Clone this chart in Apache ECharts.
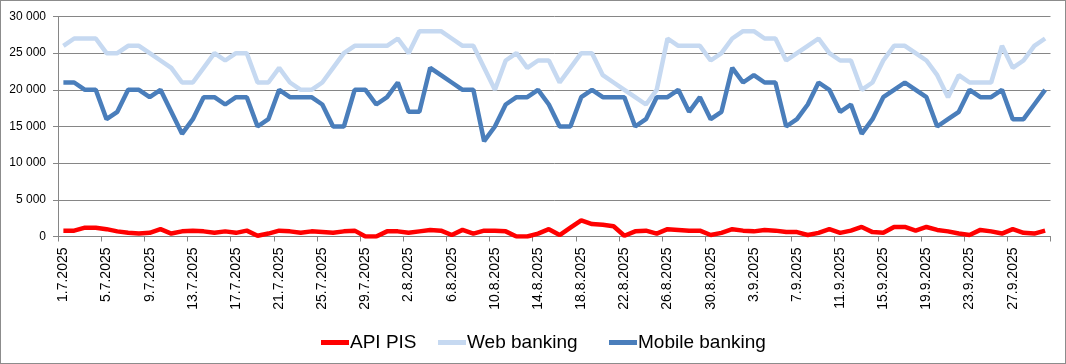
<!DOCTYPE html>
<html>
<head>
<meta charset="utf-8">
<script src="https://cdn.jsdelivr.net/npm/echarts@6/dist/echarts.min.js"></script>
<style>
html,body{margin:0;padding:0;background:#fff;}
#chart{width:1066px;height:364px;box-sizing:border-box;border:1px solid #8c8c8c;}
</style>
</head>
<body>
<div id="chart"></div>
<script>
const categories = [
"1.7.2025","2.7.2025","3.7.2025","4.7.2025","5.7.2025","6.7.2025","7.7.2025","8.7.2025","9.7.2025","10.7.2025",
"11.7.2025","12.7.2025","13.7.2025","14.7.2025","15.7.2025","16.7.2025","17.7.2025","18.7.2025","19.7.2025","20.7.2025",
"21.7.2025","22.7.2025","23.7.2025","24.7.2025","25.7.2025","26.7.2025","27.7.2025","28.7.2025","29.7.2025","30.7.2025",
"31.7.2025","1.8.2025","2.8.2025","3.8.2025","4.8.2025","5.8.2025","6.8.2025","7.8.2025","8.8.2025","9.8.2025",
"10.8.2025","11.8.2025","12.8.2025","13.8.2025","14.8.2025","15.8.2025","16.8.2025","17.8.2025","18.8.2025","19.8.2025",
"20.8.2025","21.8.2025","22.8.2025","23.8.2025","24.8.2025","25.8.2025","26.8.2025","27.8.2025","28.8.2025","29.8.2025",
"30.8.2025","31.8.2025","1.9.2025","2.9.2025","3.9.2025","4.9.2025","5.9.2025","6.9.2025","7.9.2025","8.9.2025",
"9.9.2025","10.9.2025","11.9.2025","12.9.2025","13.9.2025","14.9.2025","15.9.2025","16.9.2025","17.9.2025","18.9.2025",
"19.9.2025","20.9.2025","21.9.2025","22.9.2025","23.9.2025","24.9.2025","25.9.2025","26.9.2025","27.9.2025","28.9.2025",
"29.9.2025","30.9.2025"
];

const apiPis = [
800,800,1200,1200,1000,700,500,400,500,1000,
400,700,800,700,500,700,500,800,100,400,
800,700,500,700,600,500,700,800,0,0,
700,700,500,700,900,800,200,900,400,800,
800,700,0,0,400,1000,200,1200,2200,1700,
1600,1400,100,700,800,400,1000,900,800,800,
200,500,1000,800,700,900,800,600,600,200,
500,1000,500,800,1300,600,500,1300,1300,800,
1300,900,700,400,200,900,700,400,1000,500,
400,800
];

const webBanking = [
26000,27000,27000,27000,25000,25000,26000,26000,25000,24000,
23000,21000,21000,23000,25000,24000,25000,25000,21000,21000,
23000,21000,20000,20000,21000,23000,25000,26000,26000,26000,
26000,27000,25000,28000,28000,28000,27000,26000,26000,23000,
20000,24000,25000,23000,24000,24000,21000,23000,25000,25000,
22000,21000,20000,19000,18000,20000,27000,26000,26000,26000,
24000,25000,27000,28000,28000,27000,27000,24000,25000,26000,
27000,25000,24000,24000,20000,21000,24000,26000,26000,25000,
24000,22000,19000,22000,21000,21000,21000,26000,23000,24000,
26000,27000
];

const mobileBanking = [
21000,21000,20000,20000,16000,17000,20000,20000,19000,20000,
17000,14000,16000,19000,19000,18000,19000,19000,15000,16000,
20000,19000,19000,19000,18000,15000,15000,20000,20000,18000,
19000,21000,17000,17000,23000,22000,21000,20000,20000,13000,
15000,18000,19000,19000,20000,18000,15000,15000,19000,20000,
19000,19000,19000,15000,16000,19000,19000,20000,17000,19000,
16000,17000,23000,21000,22000,21000,21000,15000,16000,18000,
21000,20000,17000,18000,14000,16000,19000,20000,21000,20000,
19000,15000,16000,17000,20000,19000,19000,20000,16000,16000,
18000,20000
];

const yTicks = [0, 5000, 10000, 15000, 20000, 25000, 30000];
const seriesNames = ['API PIS', 'Web banking', 'Mobile banking'];

const fmt = v => String(v).replace(/\B(?=(\d{3})+(?!\d))/g, ' ');

const chart = echarts.init(document.getElementById('chart'));
const font = 'Liberation Sans, Arial, sans-serif';
const legendBase = {
  top: 327, itemWidth: 28, itemHeight: 5, icon: 'rect',
  textStyle: { fontFamily: font, fontSize: 19, color: '#000', padding: [0,0,0,-4] }
};
chart.setOption({
  animation: false,
  grid: { left: 57, right: 14.5, top: 15.5, bottom: 126.5, containLabel: false },
  legend: [
    Object.assign({}, legendBase, { left: 315, data: [seriesNames[0]] }),
    Object.assign({}, legendBase, { left: 432, data: [seriesNames[1]] }),
    Object.assign({}, legendBase, { left: 603, data: [seriesNames[2]] })
  ],
  xAxis: {
    type: 'category',
    data: categories,
    boundaryGap: true,
    axisLine: { lineStyle: { color: '#868686', width: 1 } },
    axisTick: { show: true, interval: 3, length: 5, lineStyle: { color: '#868686' } },
    axisLabel: { interval: 3, rotate: 90, fontFamily: font, fontSize: 14, color: '#000', margin: 11 }
  },
  yAxis: {
    type: 'value',
    min: yTicks[0], max: yTicks[yTicks.length - 1], interval: 5000,
    axisLine: { show: true, lineStyle: { color: '#868686' } },
    axisTick: { show: true, length: 5, lineStyle: { color: '#868686' } },
    splitLine: { lineStyle: { color: '#868686', width: 1 } },
    axisLabel: { formatter: fmt, fontFamily: font, fontSize: 12, color: '#000', margin: 12 }
  },
  series: [
    { name: seriesNames[0], type: 'line', data: apiPis, showSymbol: false, symbol: 'none',
      lineStyle: { color: '#ff0000', width: 4.5 }, itemStyle: { color: '#ff0000' }, z: 3 },
    { name: seriesNames[1], type: 'line', data: webBanking, showSymbol: false, symbol: 'none',
      lineStyle: { color: '#c6d9f1', width: 4.5 }, itemStyle: { color: '#c6d9f1' }, z: 1 },
    { name: seriesNames[2], type: 'line', data: mobileBanking, showSymbol: false, symbol: 'none',
      lineStyle: { color: '#4a7ebb', width: 4.5 }, itemStyle: { color: '#4a7ebb' }, z: 2 }
  ]
});
</script>
</body>
</html>
